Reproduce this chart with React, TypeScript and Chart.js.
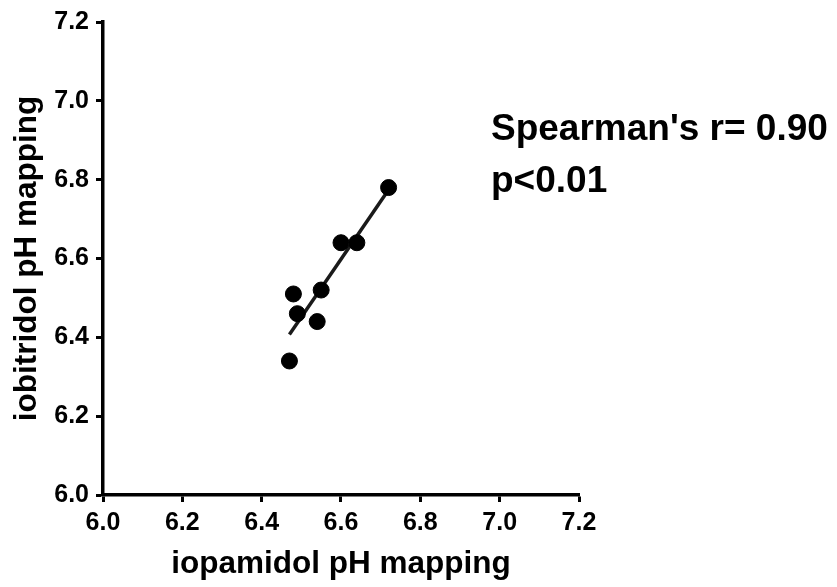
import React, { useEffect, useRef } from "react";
import { Chart, registerables } from "chart.js";

Chart.register(...registerables);

// Data
const iopamidolPH = [6.72, 6.60, 6.64, 6.55, 6.48, 6.49, 6.54, 6.47];
const iobitridolPH = [6.78, 6.64, 6.64, 6.52, 6.51, 6.46, 6.44, 6.34];
const xTickValues = [6.0, 6.2, 6.4, 6.6, 6.8, 7.0, 7.2];
const yTickValues = [6.0, 6.2, 6.4, 6.6, 6.8, 7.0, 7.2];
const xTitle = "iopamidol pH mapping";
const yTitle = "iobitridol pH mapping";
const annotationLines = ["Spearman's r= 0.90", "p<0.01"];

const FONT = '"Liberation Sans", Arial, Helvetica, sans-serif';

function linearFit(xs: number[], ys: number[]) {
  const n = xs.length;
  const mx = xs.reduce((a, b) => a + b, 0) / n;
  const my = ys.reduce((a, b) => a + b, 0) / n;
  let sxy = 0;
  let sxx = 0;
  for (let i = 0; i < n; i++) {
    sxy += (xs[i] - mx) * (ys[i] - my);
    sxx += (xs[i] - mx) * (xs[i] - mx);
  }
  const slope = sxy / sxx;
  const intercept = my - slope * mx;
  return { slope, intercept };
}

const annotationPlugin = {
  id: "annotationText",
  afterDraw(chart: any) {
    const ctx = chart.ctx;
    ctx.save();
    ctx.font = `bold 37px ${FONT}`;
    ctx.fillStyle = "#000";
    ctx.textAlign = "left";
    ctx.textBaseline = "alphabetic";
    ctx.fillText(annotationLines[0], 491, 140);
    ctx.fillText(annotationLines[1], 491, 192);
    ctx.restore();
  },
};

export default function App() {
  const canvasRef = useRef<HTMLCanvasElement | null>(null);

  useEffect(() => {
    if (!canvasRef.current) return;
    const points = iopamidolPH.map((x, i) => ({ x, y: iobitridolPH[i] }));
    const { slope, intercept } = linearFit(iopamidolPH, iobitridolPH);
    const xMin = Math.min(...iopamidolPH);
    const xMax = Math.max(...iopamidolPH);
    const fitLine = [
      { x: xMin, y: slope * xMin + intercept },
      { x: xMax, y: slope * xMax + intercept },
    ];

    const tickFont = { size: 25, weight: "bold" as const, family: FONT };
    const titleFont = { size: 31.5, weight: "bold" as const, family: FONT };

    const chart = new Chart(canvasRef.current, {
      type: "scatter",
      data: {
        datasets: [
          {
            label: "points",
            data: points,
            backgroundColor: "#000",
            borderColor: "#000",
            pointRadius: 8,
            pointHoverRadius: 8,
            showLine: false,
          },
          {
            label: "fit",
            data: fitLine,
            showLine: true,
            borderColor: "#1a1a1a",
            borderWidth: 3.5,
            pointRadius: 0,
            fill: false,
          } as any,
        ],
      },
      options: {
        animation: false,
        responsive: false,
        events: [],
        layout: { padding: { left: 0, top: 20, right: 258, bottom: 0 } },
        plugins: {
          legend: { display: false },
          tooltip: { enabled: false },
        },
        scales: {
          x: {
            type: "linear",
            min: 6.0,
            max: 7.2,
            afterBuildTicks: (s: any) => {
              s.ticks = xTickValues.map((v) => ({ value: v }));
            },
            afterFit: (s: any) => {
              s.height = 92;
            },
            ticks: {
              callback: (v: any) => Number(v).toFixed(1),
              font: tickFont,
              color: "#000",
              padding: 6,
              maxRotation: 0,
              autoSkip: false,
            },
            grid: {
              display: true,
              drawOnChartArea: false,
              drawTicks: true,
              tickLength: 7,
              tickWidth: 3,
              tickColor: "#000",
            },
            border: { display: true, color: "#000", width: 3.5 },
            title: {
              display: true,
              text: xTitle,
              font: titleFont,
              color: "#000",
              padding: { top: 0, bottom: 4 },
            },
          },
          y: {
            type: "linear",
            min: 6.0,
            max: 7.2,
            afterBuildTicks: (s: any) => {
              s.ticks = yTickValues.map((v) => ({ value: v }));
            },
            afterFit: (s: any) => {
              s.width = 103;
            },
            ticks: {
              callback: (v: any) => Number(v).toFixed(1),
              font: tickFont,
              color: "#000",
              padding: 7,
              autoSkip: false,
            },
            grid: {
              display: true,
              drawOnChartArea: false,
              drawTicks: true,
              tickLength: 7,
              tickWidth: 3,
              tickColor: "#000",
            },
            border: { display: true, color: "#000", width: 3.5 },
            title: {
              display: true,
              text: yTitle,
              font: titleFont,
              color: "#000",
              padding: { top: 8, bottom: 0 },
            },
          },
        },
      },
      plugins: [annotationPlugin],
    });

    return () => {
      chart.destroy();
    };
  }, []);

  return (
    <div style={{ position: "fixed", left: 0, top: 0, width: 837, height: 587, background: "#fff" }}>
      <canvas ref={canvasRef} width={837} height={587} style={{ display: "block" }} />
    </div>
  );
}
